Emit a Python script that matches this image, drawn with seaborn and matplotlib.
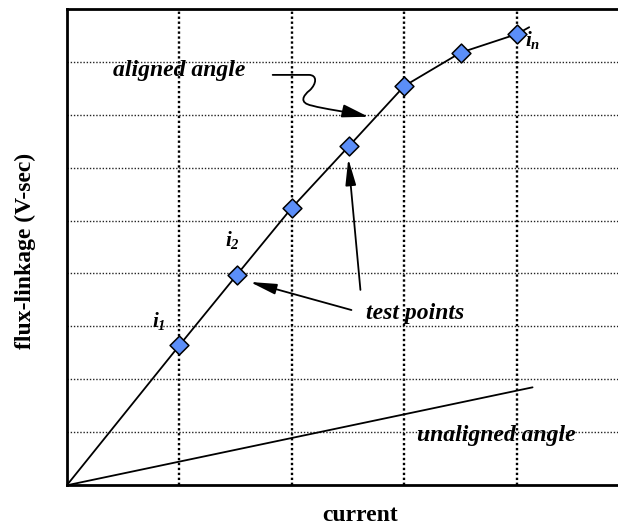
import matplotlib
matplotlib.use("Agg")
import matplotlib.pyplot as plt
from matplotlib.path import Path
from matplotlib.patches import FancyArrowPatch
import seaborn as sns
import pandas as pd

# flux-linkage vs current at the aligned rotor angle (with test points)
aligned_current = [0.0, 1.0, 1.51, 2.0, 2.51, 3.0, 3.5, 4.0, 4.11]
aligned_flux = [0.0, 2.64, 3.97, 5.24, 6.41, 7.54, 8.17, 8.52, 8.65]
test_current = [1.0, 1.51, 2.0, 2.51, 3.0, 3.5, 4.0]
test_flux = [2.64, 3.97, 5.24, 6.41, 7.54, 8.17, 8.52]
# unaligned rotor angle: a straight, low-slope characteristic
unaligned_current = [0.0, 4.14]
unaligned_flux = [0.0, 1.85]

x_grid = [1, 2, 3, 4]
y_grid = [1, 2, 3, 4, 5, 6, 7, 8]

sns.set_style("white")
plt.rcParams["font.family"] = ["Liberation Serif", "DejaVu Serif"]
plt.rcParams["text.color"] = "black"
plt.rcParams["axes.labelcolor"] = "black"
plt.rcParams["mathtext.fontset"] = "custom"
plt.rcParams["mathtext.it"] = "Liberation Serif:italic:bold"
plt.rcParams["mathtext.rm"] = "Liberation Serif:italic:bold"
plt.rcParams["mathtext.bf"] = "Liberation Serif:italic:bold"

fig = plt.figure(figsize=(6.18, 5.25), dpi=100)
ax = fig.add_axes([66.8 / 618, 39.7 / 525, 562.5 / 618, 476.6 / 525])

aligned = pd.DataFrame({"current": aligned_current, "flux": aligned_flux})
unaligned = pd.DataFrame({"current": unaligned_current, "flux": unaligned_flux})
points = pd.DataFrame({"current": test_current, "flux": test_flux})

sns.lineplot(data=aligned, x="current", y="flux", sort=False, estimator=None,
             color="black", linewidth=1.3, ax=ax, zorder=3)
sns.lineplot(data=unaligned, x="current", y="flux", sort=False, estimator=None,
             color="black", linewidth=1.3, ax=ax, zorder=3)
sns.scatterplot(data=points, x="current", y="flux", marker="D", s=92,
                color="#5B8EF8", edgecolor="black", linewidth=1.1, ax=ax, zorder=4)

ax.set_xlim(0, 5)
ax.set_ylim(0, 9)
ax.set_xticks(x_grid)
ax.set_yticks(y_grid)
ax.set_xticklabels([])
ax.set_yticklabels([])
ax.tick_params(length=0)
ax.grid(axis="x", color="black", linestyle=(0, (1, 1.1)), linewidth=1.7)
ax.grid(axis="y", color="#222222", linestyle=(0, (1, 1.3)), linewidth=1.0)
ax.set_axisbelow(True)
for side in ("left", "bottom", "top", "right"):
    ax.spines[side].set_linewidth(2.0)
    ax.spines[side].set_color("black")

ax.set_xlabel("current", fontsize=17, fontweight="bold")
ax.xaxis.label.set_va("baseline")
ax.xaxis.set_label_coords(0.521, -0.0743)
ax.set_ylabel("flux-linkage (V-sec)", fontsize=17, fontweight="bold")
ax.yaxis.label.set_va("center")
ax.yaxis.set_label_coords(-0.0743, 0.4916)

note = dict(fontsize=17, fontweight="bold", fontstyle="italic",
            ha="center", va="baseline", zorder=5, color="black")
ax.text(1.0, 7.73, "aligned angle", **note)
ax.text(3.10, 3.14, "test points", **note)
ax.text(3.82, 0.84, "unaligned angle", **note)

sub = dict(fontsize=15, ha="center", va="baseline", zorder=5, color="black")
ax.text(0.82, 2.99, r"$i_{1}$", **sub)
ax.text(1.47, 4.51, r"$i_{2}$", **sub)
ax.text(4.14, 8.30, r"$i_{n}$", **sub)

arrow = dict(arrowstyle="-|>,head_length=0.8,head_width=0.16",
             color="black", lw=1.3, mutation_scale=20, shrinkA=0, shrinkB=0)
ax.annotate("", xy=(1.628, 3.84), xytext=(2.53, 3.31), arrowprops=arrow)
ax.annotate("", xy=(2.502, 6.17), xytext=(2.61, 3.69), arrowprops=arrow)

# wavy leader from the "aligned angle" note to the curve
wave = Path(
    [(1.83, 7.75), (2.15, 7.75),
     (2.23, 7.75), (2.22, 7.58), (2.16, 7.46),
     (2.10, 7.36), (2.06, 7.22), (2.18, 7.17),
     (2.30, 7.10), (2.45, 7.07), (2.68, 6.96)],
    [Path.MOVETO, Path.LINETO,
     Path.CURVE4, Path.CURVE4, Path.CURVE4,
     Path.CURVE4, Path.CURVE4, Path.CURVE4,
     Path.CURVE4, Path.CURVE4, Path.CURVE4])
ax.add_patch(FancyArrowPatch(path=wave, transform=ax.transData,
                             arrowstyle="-|>,head_length=0.8,head_width=0.2",
                             mutation_scale=20, color="black", lw=1.3, zorder=5))

fig.savefig("out.png", dpi=100)
